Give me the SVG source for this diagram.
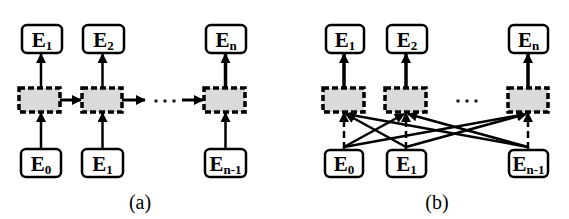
<svg xmlns="http://www.w3.org/2000/svg" width="569" height="219" viewBox="0 0 569 219">
<style>
.box{fill:#fff;stroke:#000;stroke-width:2.5}
.cell{fill:#d9d9d9;stroke:#000;stroke-width:3.5;stroke-dasharray:6 3}
.t{font-family:"Liberation Serif",serif;font-weight:bold;font-size:21px;fill:#000}
.s{font-size:13px}
.cap{font-family:"Liberation Serif",serif;font-size:20px;fill:#000}
.ln{stroke:#000;stroke-width:2.5;fill:none}
.dots{fill:#222}
</style>
<defs>
<marker id="ah" viewBox="0 0 10 10" refX="9" refY="5" markerWidth="11" markerHeight="10" markerUnits="userSpaceOnUse" orient="auto">
<path d="M0,0 L10,5 L0,10 Z" fill="#000"/>
</marker>
</defs>

<!-- (a) -->
<g id="a-top1"><rect class="box" x="22" y="25" width="40" height="28" rx="5"/><text class="t" x="42" y="47" text-anchor="middle">E<tspan class="s" dy="3">1</tspan></text></g>
<g id="a-top2"><rect class="box" x="83" y="25" width="41" height="28" rx="5"/><text class="t" x="103.5" y="47" text-anchor="middle">E<tspan class="s" dy="3">2</tspan></text></g>
<g id="a-topn"><rect class="box" x="206" y="25" width="40" height="28" rx="5"/><text class="t" x="226" y="47" text-anchor="middle">E<tspan class="s" dy="3">n</tspan></text></g>
<g id="a-cell1"><rect class="cell" x="19" y="88" width="41" height="24"/></g>
<g id="a-cell2"><rect class="cell" x="82" y="88" width="40" height="24"/></g>
<g id="a-celln"><rect class="cell" x="204" y="88" width="41" height="24"/></g>
<g id="a-bot0"><rect class="box" x="21" y="149" width="40" height="28" rx="5"/><text class="t" x="41" y="171" text-anchor="middle">E<tspan class="s" dy="3">0</tspan></text></g>
<g id="a-bot1"><rect class="box" x="82" y="149" width="41" height="28" rx="5"/><text class="t" x="102.5" y="171" text-anchor="middle">E<tspan class="s" dy="3">1</tspan></text></g>
<g id="a-botn"><rect class="box" x="205" y="149" width="41" height="28" rx="5"/><text class="t" x="225.5" y="171" text-anchor="middle">E<tspan class="s" dy="3">n-1</tspan></text></g>
<g id="a-dots" class="dots"><circle cx="156" cy="101" r="1.8"/><circle cx="165" cy="101" r="1.8"/><circle cx="174" cy="101" r="1.8"/></g>
<text class="cap" x="140" y="209" text-anchor="middle">(a)</text>

<!-- (b) -->
<g id="b-top1"><rect class="box" x="326" y="25" width="38" height="28" rx="5"/><text class="t" x="345" y="47" text-anchor="middle">E<tspan class="s" dy="3">1</tspan></text></g>
<g id="b-top2"><rect class="box" x="387" y="25" width="40" height="28" rx="5"/><text class="t" x="407" y="47" text-anchor="middle">E<tspan class="s" dy="3">2</tspan></text></g>
<g id="b-topn"><rect class="box" x="509" y="25" width="39" height="28" rx="5"/><text class="t" x="528.5" y="47" text-anchor="middle">E<tspan class="s" dy="3">n</tspan></text></g>
<g id="b-cell1"><rect class="cell" x="323" y="88" width="41" height="24"/></g>
<g id="b-cell2"><rect class="cell" x="385" y="88" width="41" height="24"/></g>
<g id="b-celln"><rect class="cell" x="508" y="88" width="40" height="24"/></g>
<g id="b-bot0"><rect class="box" x="325" y="150" width="38" height="27" rx="5"/><text class="t" x="344" y="171" text-anchor="middle">E<tspan class="s" dy="3">0</tspan></text></g>
<g id="b-bot1"><rect class="box" x="387" y="150" width="39" height="27" rx="5"/><text class="t" x="406.5" y="171" text-anchor="middle">E<tspan class="s" dy="3">1</tspan></text></g>
<g id="b-botn"><rect class="box" x="509" y="150" width="39" height="27" rx="5"/><text class="t" x="528.5" y="171" text-anchor="middle">E<tspan class="s" dy="3">n-1</tspan></text></g>
<g id="b-dots" class="dots"><circle cx="458" cy="101" r="1.8"/><circle cx="467" cy="101" r="1.8"/><circle cx="476" cy="101" r="1.8"/></g>
<text class="cap" x="437" y="209" text-anchor="middle">(b)</text>

<g id="connectors">
<!-- (a) vertical -->
<line class="ln" x1="41" y1="88" x2="41" y2="54" marker-end="url(#ah)"/>
<line class="ln" x1="102.5" y1="88" x2="102.5" y2="54" marker-end="url(#ah)"/>
<line class="ln" x1="225.5" y1="88" x2="225.5" y2="54" marker-end="url(#ah)" style="stroke-width:3.5"/>
<line class="ln" x1="41" y1="149" x2="41" y2="113" marker-end="url(#ah)"/>
<line class="ln" x1="102.5" y1="149" x2="102.5" y2="113" marker-end="url(#ah)"/>
<line class="ln" x1="225.5" y1="149" x2="225.5" y2="113" marker-end="url(#ah)"/>
<!-- (a) horizontal -->
<line class="ln" x1="60" y1="100" x2="81" y2="100" marker-end="url(#ah)" style="stroke-width:3"/>
<line class="ln" x1="122" y1="100" x2="145" y2="100" marker-end="url(#ah)" style="stroke-width:3"/>
<line class="ln" x1="182" y1="100" x2="203" y2="100" marker-end="url(#ah)" style="stroke-width:3"/>
<!-- (b) vertical up -->
<line class="ln" x1="344" y1="88" x2="344" y2="54" marker-end="url(#ah)" style="stroke-width:3.5"/>
<line class="ln" x1="406" y1="88" x2="406" y2="54" marker-end="url(#ah)" style="stroke-width:3.5"/>
<line class="ln" x1="528" y1="88" x2="528" y2="54" marker-end="url(#ah)" style="stroke-width:3.5"/>
<!-- (b) dashed verticals -->
<line class="ln" x1="344" y1="149" x2="344" y2="113" marker-end="url(#ah)" style="stroke-dasharray:7 4"/>
<line class="ln" x1="406" y1="149" x2="406" y2="113" marker-end="url(#ah)" style="stroke-dasharray:7 4"/>
<line class="ln" x1="528" y1="149" x2="528" y2="113" marker-end="url(#ah)" style="stroke-dasharray:7 4"/>
<!-- (b) crossing -->
<line class="ln" x1="344" y1="147" x2="404" y2="114" marker-end="url(#ah)"/>
<line class="ln" x1="344" y1="147" x2="526" y2="114" marker-end="url(#ah)"/>
<line class="ln" x1="406" y1="147" x2="346" y2="114" marker-end="url(#ah)"/>
<line class="ln" x1="406" y1="147" x2="526" y2="114" marker-end="url(#ah)"/>
<line class="ln" x1="528" y1="147" x2="346" y2="114" marker-end="url(#ah)"/>
<line class="ln" x1="528" y1="147" x2="408" y2="114" marker-end="url(#ah)"/>
</g>
</svg>
